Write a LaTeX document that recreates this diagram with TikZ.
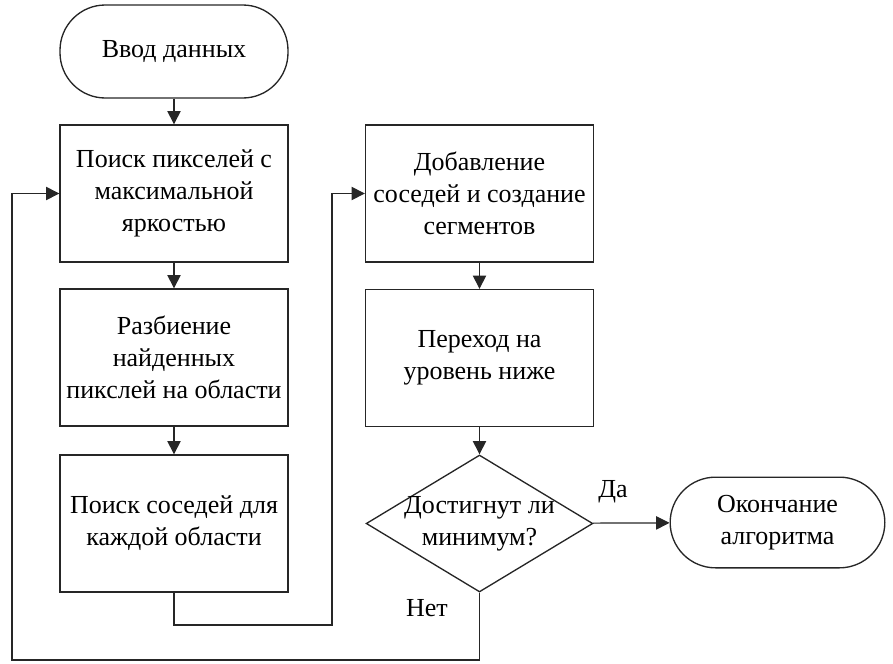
\documentclass[tikz,border=0pt]{standalone}
\usepackage{fontspec}
\setmainfont{Liberation Serif}
\usetikzlibrary{shapes.geometric,arrows.meta}

\begin{document}
\begin{tikzpicture}[x=0.75pt,y=-0.75pt,
  every node/.style={font=\rmfamily\fontsize{19.5}{24}\selectfont},
  block node/.style={draw=black!85,line width=1pt,rectangle,minimum width=171pt,minimum height=102.75pt,align=center,inner sep=2pt},
  term node/.style={draw=black!85,line width=1pt,rectangle,rounded corners=34pt,align=center},
  cond node/.style={draw=black!85,line width=1pt,diamond,minimum width=170pt,minimum height=102.75pt,inner sep=0pt},
  line/.style={draw=black!85,line width=0.9pt,-{Triangle[length=10pt,width=10pt]}}]
  \useasboundingbox (0,0) rectangle (893,664);

  \node[term node,minimum width=171pt,minimum height=69.75pt] (n0) at (174,51.5) {Ввод данных};
  \node[block node] (n1) at (174,193.5) {Поиск пикселей с\\максимальной\\яркостью};
  \node[block node] (n2) at (174,357.5) {Разбиение\\найденных\\пикслей на области};
  \node[block node] (n3) at (174,523.5) {Поиск соседей для\\каждой области};
  \node[block node] (n4) at (479.5,193.5) {Добавление\\соседей и создание\\сегментов};
  \node[block node] (n5) at (479.5,358) {Переход на\\уровень ниже};
  \node[cond node,label={[name=n6t,align=center]center:{Достигнут ли\\минимум?}}] (n6) at (479.5,523.5) {};
  \node[term node,minimum width=161pt,minimum height=68pt] (n7) at (777.5,522.5) {Окончание\\алгоритма};

  \node (yes) at (613,492) {Да};
  \node (no) at (427,608) {Нет};

  \coordinate (c1) at (332,625);
  \coordinate (c2) at (12,660);

  \path (n0) edge[line] (n1);
  \path (n1) edge[line] (n2);
  \path (n2) edge[line] (n3);
  \path (n4) edge[line] (n5);
  \path (n5) edge[line] (n6);
  \path (n6) edge[line] (n7);
  \draw[line] (n3.south) |- (c1) |- (n4.west);
  \draw[line] (n6.south) |- (c2) |- (n1.west);
\end{tikzpicture}
\end{document}
